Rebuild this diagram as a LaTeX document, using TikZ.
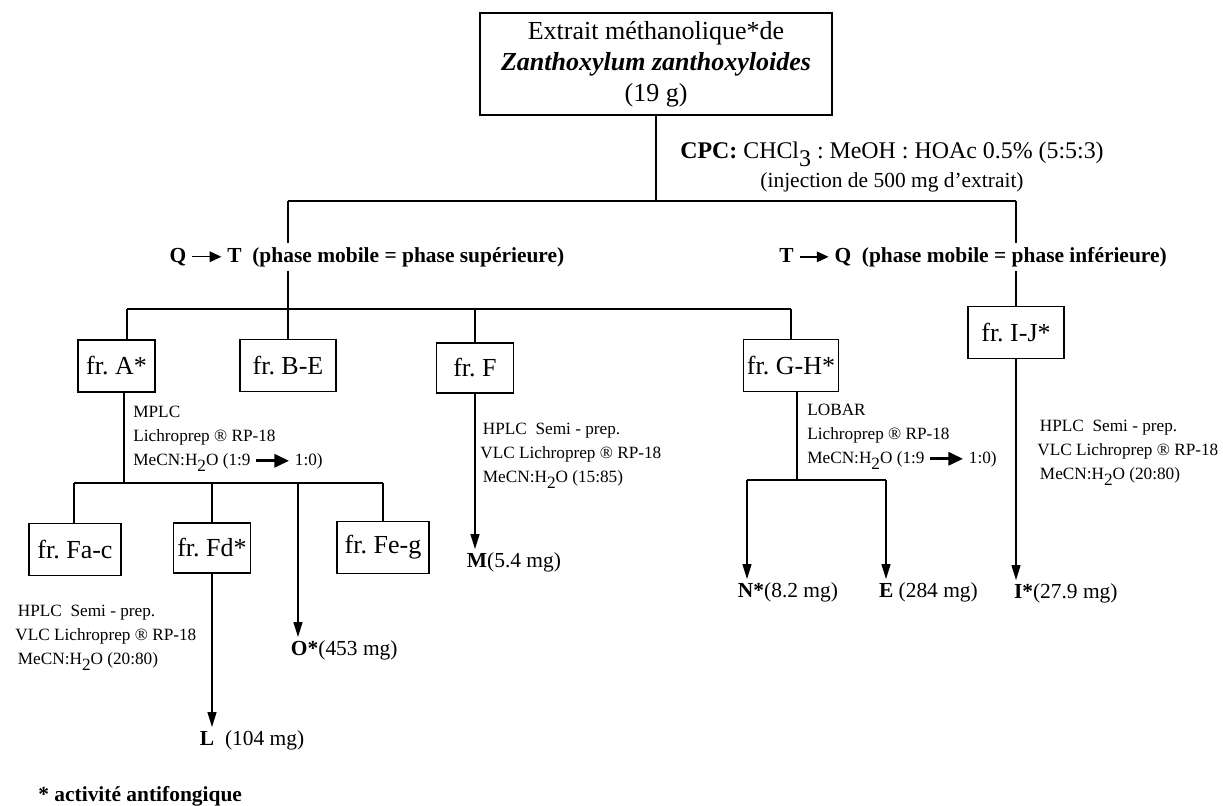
\documentclass[tikz,border=0pt]{standalone}
\usepackage{fontspec}
\setmainfont{Liberation Serif}
\usetikzlibrary{arrows.meta,positioning,calc}
\frenchspacing
\newcommand\boxfont{\fontsize{14.8}{17.6}\selectfont}
\newcommand\labfont{\fontsize{12.2}{17}\selectfont}
\newcommand\cpcfont{\fontsize{13.6}{18}\selectfont}
\newcommand\smallfont{\fontsize{9.8}{13.6}\selectfont}
\newcommand\lowered[1]{\raisebox{-0.75ex}{#1}}
\newcommand\phasearrow{\tikz[baseline=-0.55ex]\draw[-{Triangle[length=0.55em,width=0.5em]},line width=0.06em] (0,0) -- (1.35em,0);}
\newcommand\gradarrow{\tikz[baseline=-0.6ex]\draw[-{Triangle[length=0.85em,width=0.75em]},line width=0.18em] (0,0) -- (1.9em,0);}
\tikzset{
  fracbox/.style={draw,line width=1.1pt,inner sep=0pt,minimum height=1.04cm,font=\boxfont},
  link/.style={line width=0.9pt},
  arr/.style={link,-{Triangle[length=8.5pt,width=5pt]}},
  method/.style={anchor=north west,align=left,inner sep=0pt,font=\smallfont},
  result/.style={anchor=base west,inner sep=1.5pt,font=\labfont},
  phase/.style={font=\labfont\bfseries,inner sep=2pt}
}
\begin{document}
\begin{tikzpicture}[x=0.02cm,y=-0.02cm]
\useasboundingbox (0,0) rectangle (1223,805);

% extrait de depart + CPC
\node[draw,line width=1.1pt,minimum width=7.04cm,minimum height=2.04cm,align=center,font=\boxfont] (extrait) at (656,64)
  {Extrait méthanolique*de\\ \textbf{\textit{Zanthoxylum zanthoxyloides}}\\ (19 g)};
\node[align=center] (cpc) at (892,167)
  {{\cpcfont\textbf{CPC:} CHCl\lowered{3} : MeOH : HOAc 0.5\% (5:5:3)}\\[2pt]{\labfont(injection de 500 mg d'extrait)}};
\node[phase] (sup) at (367,257) {Q \phasearrow\ T \ (phase mobile = phase supérieure)};
\node[phase] (inf) at (973,257) {T \phasearrow\ Q \ (phase mobile = phase inférieure)};

% fractions
\node[fracbox,minimum width=1.54cm] (frA) at (116.5,366) {fr. A*};
\node[fracbox,minimum width=1.92cm] (frBE) at (288,365.5) {fr. B-E};
\node[fracbox,minimum width=1.54cm,minimum height=1.0cm] (frF) at (475,368) {fr. F};
\node[fracbox,minimum width=1.9cm] (frGH) at (791,365.5) {fr. G-H*};
\node[fracbox,minimum width=1.92cm] (frIJ) at (1016,332.5) {fr. I-J*};
\node[fracbox,minimum width=1.84cm] (frFac) at (75,549.5) {fr. Fa-c};
\node[fracbox,minimum width=1.54cm,minimum height=1.0cm] (frFd) at (212,548) {fr. Fd*};
\node[fracbox,minimum width=1.84cm] (frFeg) at (383,547.5) {fr. Fe-g};

% conditions
\node[method] (mA) at (133,406) {MPLC\\Lichroprep ® RP-18\\MeCN:H\lowered{2}O (1:9 \gradarrow\ 1:0)};
\node[method] (mF) at (480,423) {\hspace*{0.15em}HPLC\ \ Semi - prep.\\VLC Lichroprep ® RP-18\\\hspace*{0.15em}MeCN:H\lowered{2}O (15:85)};
\node[method] (mGH) at (807,404) {LOBAR\\Lichroprep ® RP-18\\MeCN:H\lowered{2}O (1:9 \gradarrow\ 1:0)};
\node[method] (mIJ) at (1037,420) {\hspace*{0.15em}HPLC\ \ Semi - prep.\\VLC Lichroprep ® RP-18\\\hspace*{0.15em}MeCN:H\lowered{2}O (20:80)};
\node[method] (mFd) at (15,605) {\hspace*{0.15em}HPLC\ \ Semi - prep.\\VLC Lichroprep ® RP-18\\\hspace*{0.15em}MeCN:H\lowered{2}O (20:80)};

% composes isoles
\node[result] (resM) at (464,567) {\textbf{M}(5.4 mg)};
\node[result] (resL) at (197,745) {\textbf{L}\ \ (104 mg)};
\node[result] (resO) at (288,655) {\textbf{O*}(453 mg)};
\node[result] (resN) at (735,597) {\textbf{N*}(8.2 mg)};
\node[result] (resE) at (876,597) {\textbf{E} (284 mg)};
\node[result] (resI) at (1011,598) {\textbf{I*}(27.9 mg)};
\node[anchor=base west,font=\labfont\bfseries,inner sep=0pt] (legende) at (38,801) {* activité antifongique};

% CPC: deux modes
\coordinate (cpcL) at (288,201);
\coordinate (cpcR) at (1016,201);
\draw[link] (extrait.south) -- (extrait.south |- cpcL);
\draw[link] (cpcL) -- (cpcR);
\draw[link] (cpcL) -- (cpcL |- sup.north);
\draw[link] (cpcR) -- (cpcR |- inf.north);

% Q -> T
\coordinate (jA) at (127,309);
\coordinate (jGH) at (791,309);
\draw[link] (jA) -- (jGH);
\draw[link] (sup.south -| frBE) -- (frBE.north);
\draw[link] (jA) -- (jA |- frA.north);
\foreach \b in {frF,frGH}
  \draw[link] (\b.north |- jA) -- (\b.north);
% T -> Q
\draw[link] (inf.south -| frIJ) -- (frIJ.north);

% fr. A
\coordinate (jAsub) at (124,483);
\coordinate (jFac) at (74,483);
\coordinate (jFeg) at (383,483);
\coordinate (jO) at (298,483);
\draw[link] (frA.south -| jAsub) -- (jAsub);
\draw[link] (jFac) -- (jFeg);
\draw[link] (jFac) -- (jFac |- frFac.north);
\draw[link] (frFd.north |- jFac) -- (frFd.north);
\draw[link] (jFeg) -- (jFeg |- frFeg.north);
\draw[arr] (jO) -- (jO |- resO.north);
\draw[arr] (frFd.south) -- (frFd.south |- resL.north);

% fr. F
\draw[arr] (frF.south) -- (frF.south |- resM.north);

% fr. G-H
\coordinate (jGHsub) at (797,480);
\coordinate (jN) at (747,480);
\coordinate (jE) at (886,480);
\draw[link] (frGH.south -| jGHsub) -- (jGHsub);
\draw[link] (jN) -- (jE);
\draw[arr] (jN) -- (jN |- resN.north);
\draw[arr] (jE) -- (jE |- resE.north);

% fr. I-J
\draw[arr] (frIJ.south) -- (frIJ.south |- resI.north);
\end{tikzpicture}
\end{document}
